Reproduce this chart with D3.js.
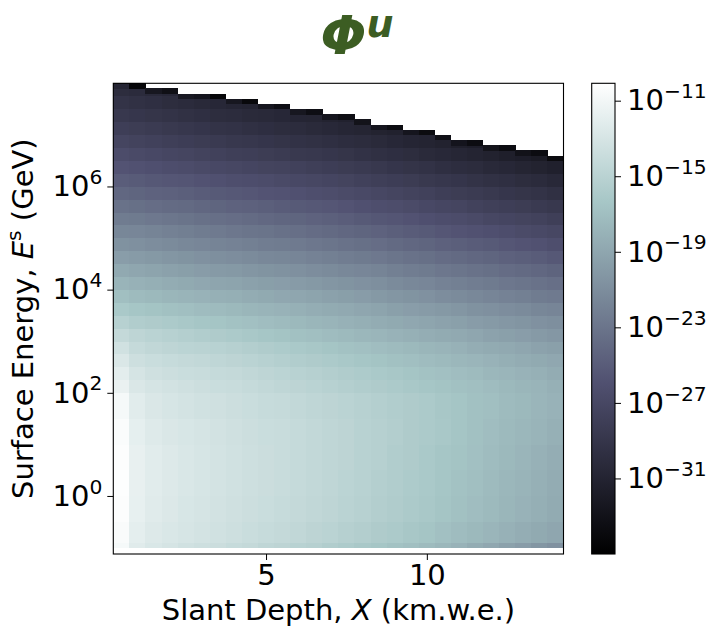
<!DOCTYPE html>
<html>
<head>
<meta charset="utf-8">
<script src="https://cdn.jsdelivr.net/npm/d3@7"></script>
<style>
  body { margin: 0; background: #fff; }
  svg text { font-family: "DejaVu Sans", sans-serif; fill: #000; }
</style>
</head>
<body>
<svg width="710" height="631"></svg>
<script>
// slant depth bin edges (km.w.e.), one column per bin
var depthEdges = [0.25, 0.75, 1.25, 1.75, 2.25, 2.75, 3.25, 3.75, 4.25, 4.75, 5.25, 5.75, 6.25, 6.75,
                  7.25, 7.75, 8.25, 8.75, 9.25, 9.75, 10.25, 10.75, 11.25, 11.75, 12.25, 12.75, 13.25, 13.75, 14.25];

// log10 of surface energy bin edges (GeV)
var energyEdges = [-1.0, -0.9, -0.5, 0.0, 0.5, 1.0, 1.5, 2.0, 2.25, 2.5, 2.75, 3.0, 3.25, 3.5, 3.75, 4.0,
                   4.25, 4.5, 4.75, 5.0, 5.25, 5.5, 5.75, 6.0, 6.25, 6.5, 6.75, 7.0, 7.25, 7.5, 7.75, 8.0];

// highest surface energy filled in each depth column (log10 GeV) and its last thin bin
var topEdge = [8.0, 8.0, 7.9, 7.9, 7.8, 7.8, 7.8, 7.7, 7.7, 7.6, 7.6, 7.5, 7.5, 7.4,
               7.4, 7.3, 7.2, 7.2, 7.1, 7.1, 7.0, 6.9, 6.9, 6.8, 6.8, 6.7, 6.7, 6.6];
var topBinWidth = 0.1;
var topBinFlux = [-30.8, -34.3, -32.4, -33.2, -32.2, -32.6, -34.3, -32.4, -34.0, -32.5, -33.4, -32.4, -33.4, -32.6,
                  -33.4, -32.9, -32.6, -33.6, -32.6, -33.7, -33.2, -32.7, -33.6, -32.8, -33.6, -33.0, -33.6, -33.8];

// log10 Phi^u per depth column, lowest energy bin first
var logFlux = [
  [-10.8, -10.5, -10.3, -10.2, -10.3, -10.4, -10.8, -11.6, -12.1, -12.7, -13.4, -14.3, -15.2, -16.1, -17.0, -17.9, -18.8, -19.7, -20.6, -21.5, -22.4, -23.2, -24.1, -24.9, -25.7, -26.5, -27.3, -28.0, -28.7, -29.3, -30.0],
  [-12.3, -12.0, -11.8, -11.7, -11.7, -11.9, -12.2, -12.7, -13.1, -13.6, -14.2, -14.7, -15.6, -16.4, -17.3, -18.1, -19.0, -19.9, -20.8, -21.6, -22.5, -23.4, -24.3, -25.1, -25.9, -26.7, -27.5, -28.2, -28.9, -29.5, -30.2],
  [-12.8, -12.5, -12.3, -12.2, -12.2, -12.4, -12.7, -13.1, -13.5, -13.9, -14.5, -15.0, -15.8, -16.6, -17.5, -18.3, -19.2, -20.1, -21.0, -21.8, -22.7, -23.6, -24.5, -25.3, -26.1, -26.9, -27.7, -28.4, -29.1, -29.7, -30.4],
  [-13.1, -12.8, -12.6, -12.5, -12.5, -12.7, -13.0, -13.3, -13.7, -14.1, -14.7, -15.2, -16.0, -16.8, -17.7, -18.5, -19.4, -20.3, -21.2, -22.0, -22.9, -23.8, -24.6, -25.5, -26.3, -27.1, -27.9, -28.6, -29.3, -30.0, -30.6],
  [-13.4, -13.0, -12.9, -12.8, -12.8, -12.9, -13.2, -13.5, -13.9, -14.3, -14.9, -15.4, -16.2, -17.0, -17.9, -18.7, -19.6, -20.5, -21.4, -22.2, -23.1, -23.9, -24.8, -25.6, -26.5, -27.3, -28.1, -28.8, -29.5, -30.2],
  [-13.6, -13.2, -13.1, -13.0, -13.0, -13.1, -13.4, -13.7, -14.0, -14.4, -15.0, -15.6, -16.4, -17.2, -18.0, -18.9, -19.8, -20.7, -21.6, -22.4, -23.3, -24.1, -25.0, -25.8, -26.7, -27.5, -28.3, -29.0, -29.7, -30.4],
  [-13.8, -13.4, -13.3, -13.2, -13.2, -13.3, -13.5, -13.9, -14.2, -14.6, -15.1, -15.8, -16.5, -17.3, -18.2, -19.1, -20.0, -20.9, -21.8, -22.6, -23.5, -24.3, -25.2, -26.0, -26.9, -27.7, -28.5, -29.3, -30.0, -30.6],
  [-14.1, -13.6, -13.5, -13.4, -13.4, -13.5, -13.7, -14.0, -14.3, -14.8, -15.3, -16.0, -16.7, -17.5, -18.3, -19.2, -20.1, -21.0, -21.9, -22.8, -23.6, -24.5, -25.3, -26.2, -27.0, -27.9, -28.7, -29.4, -30.1, -30.8],
  [-14.3, -13.9, -13.7, -13.6, -13.6, -13.7, -13.9, -14.2, -14.5, -15.0, -15.5, -16.2, -16.9, -17.7, -18.5, -19.4, -20.3, -21.2, -22.1, -23.0, -23.8, -24.6, -25.5, -26.3, -27.2, -28.0, -28.8, -29.6, -30.3, -31.0],
  [-14.6, -14.1, -13.9, -13.8, -13.8, -13.9, -14.1, -14.4, -14.7, -15.2, -15.7, -16.4, -17.1, -17.9, -18.7, -19.6, -20.5, -21.4, -22.3, -23.1, -24.0, -24.8, -25.7, -26.5, -27.4, -28.2, -29.0, -29.8, -30.4],
  [-14.8, -14.3, -14.1, -14.0, -14.0, -14.0, -14.2, -14.6, -14.9, -15.4, -15.9, -16.6, -17.3, -18.0, -18.9, -19.7, -20.6, -21.5, -22.4, -23.3, -24.2, -25.0, -25.8, -26.7, -27.5, -28.4, -29.2, -30.0, -30.6],
  [-15.1, -14.5, -14.3, -14.2, -14.2, -14.2, -14.4, -14.8, -15.1, -15.6, -16.1, -16.8, -17.5, -18.2, -19.0, -19.9, -20.8, -21.7, -22.6, -23.5, -24.3, -25.2, -26.0, -26.9, -27.7, -28.6, -29.4, -30.1, -30.8],
  [-15.3, -14.8, -14.5, -14.4, -14.4, -14.4, -14.6, -15.0, -15.3, -15.8, -16.3, -17.0, -17.7, -18.4, -19.2, -20.1, -21.0, -21.9, -22.8, -23.7, -24.5, -25.3, -26.2, -27.0, -27.9, -28.7, -29.5, -30.3, -30.9],
  [-15.6, -15.0, -14.7, -14.6, -14.6, -14.6, -14.8, -15.2, -15.5, -16.0, -16.5, -17.2, -17.9, -18.6, -19.4, -20.3, -21.2, -22.1, -23.0, -23.9, -24.7, -25.5, -26.4, -27.2, -28.1, -28.9, -29.7, -30.5, -31.1],
  [-15.9, -15.3, -15.0, -14.9, -14.8, -14.8, -15.0, -15.4, -15.7, -16.2, -16.7, -17.4, -18.1, -18.8, -19.6, -20.5, -21.4, -22.3, -23.2, -24.1, -24.9, -25.7, -26.6, -27.4, -28.3, -29.1, -29.9, -30.7, -31.3],
  [-16.2, -15.5, -15.2, -15.1, -15.1, -15.1, -15.2, -15.6, -15.9, -16.4, -16.9, -17.6, -18.3, -19.0, -19.8, -20.7, -21.6, -22.5, -23.4, -24.3, -25.2, -26.0, -26.8, -27.7, -28.5, -29.4, -30.1, -30.9],
  [-16.4, -15.8, -15.5, -15.4, -15.3, -15.3, -15.4, -15.8, -16.1, -16.6, -17.1, -17.8, -18.5, -19.2, -20.1, -20.9, -21.8, -22.7, -23.6, -24.5, -25.4, -26.2, -27.0, -27.9, -28.7, -29.6, -30.3, -31.1],
  [-16.7, -16.0, -15.7, -15.6, -15.6, -15.5, -15.6, -16.0, -16.3, -16.8, -17.3, -18.0, -18.7, -19.5, -20.3, -21.2, -22.1, -23.0, -23.9, -24.8, -25.6, -26.4, -27.3, -28.1, -29.0, -29.8, -30.6, -31.3],
  [-17.0, -16.3, -16.0, -15.9, -15.8, -15.8, -15.8, -16.2, -16.5, -17.0, -17.5, -18.2, -18.9, -19.7, -20.5, -21.4, -22.3, -23.2, -24.1, -25.0, -25.8, -26.6, -27.5, -28.3, -29.2, -30.0, -30.8],
  [-17.3, -16.5, -16.2, -16.1, -16.1, -16.0, -16.0, -16.4, -16.7, -17.2, -17.7, -18.4, -19.1, -19.9, -20.7, -21.6, -22.5, -23.4, -24.3, -25.2, -26.1, -26.9, -27.7, -28.6, -29.4, -30.3, -31.0],
  [-17.6, -16.9, -16.5, -16.4, -16.4, -16.2, -16.3, -16.6, -16.9, -17.4, -17.9, -18.6, -19.3, -20.1, -21.0, -21.9, -22.8, -23.7, -24.6, -25.5, -26.3, -27.1, -28.0, -28.8, -29.7, -30.5, -31.2],
  [-18.0, -17.2, -16.8, -16.7, -16.6, -16.5, -16.5, -16.8, -17.1, -17.6, -18.1, -18.8, -19.5, -20.3, -21.2, -22.1, -23.0, -23.9, -24.8, -25.7, -26.5, -27.3, -28.2, -29.0, -29.9, -30.7, -31.5],
  [-18.5, -17.5, -17.1, -17.0, -16.9, -16.8, -16.8, -17.0, -17.3, -17.8, -18.4, -19.0, -19.8, -20.6, -21.4, -22.3, -23.2, -24.1, -25.0, -25.9, -26.7, -27.6, -28.4, -29.3, -30.1, -31.0, -31.7],
  [-18.9, -17.8, -17.4, -17.3, -17.2, -17.1, -17.0, -17.2, -17.6, -18.0, -18.6, -19.3, -20.0, -20.8, -21.7, -22.5, -23.4, -24.3, -25.2, -26.1, -27.0, -27.8, -28.6, -29.5, -30.4, -31.2],
  [-19.4, -18.1, -17.7, -17.6, -17.5, -17.4, -17.3, -17.5, -17.8, -18.3, -18.8, -19.5, -20.2, -21.0, -21.9, -22.8, -23.7, -24.6, -25.5, -26.3, -27.2, -28.0, -28.9, -29.7, -30.6, -31.5],
  [-19.8, -18.4, -18.0, -17.9, -17.8, -17.6, -17.5, -17.7, -18.0, -18.5, -19.0, -19.7, -20.4, -21.2, -22.1, -23.0, -23.9, -24.8, -25.7, -26.6, -27.4, -28.2, -29.1, -30.0, -30.9, -31.7],
  [-20.3, -18.7, -18.3, -18.2, -18.1, -17.9, -17.8, -17.9, -18.2, -18.7, -19.3, -20.0, -20.7, -21.5, -22.4, -23.2, -24.1, -25.0, -25.9, -26.8, -27.6, -28.5, -29.3, -30.2, -31.1, -32.0],
  [-20.7, -19.0, -18.6, -18.5, -18.4, -18.2, -18.0, -18.2, -18.5, -18.9, -19.5, -20.2, -20.9, -21.7, -22.6, -23.5, -24.4, -25.3, -26.2, -27.0, -27.9, -28.7, -29.6, -30.5, -31.4]
];

var xTicks = [5, 10];
var yTickExps = [0, 2, 4, 6];
var cbarTickExps = [-11, -15, -19, -23, -27, -31];
var cbarRange = [-35, -10.08];          // log10 of colour limits
var energyRange = [-1.125, 8.0];        // log10 of y-axis limits

var svg = d3.select("svg"),
    plot = {left: 113.3, right: 563.5, top: 83.3, bottom: 554},
    cbar = {left: 591.7, right: 615, top: 83.3, bottom: 554},
    fs = 29;

var x = d3.scaleLinear()
          .domain([depthEdges[0], depthEdges[depthEdges.length - 1]])
          .range([plot.left, plot.right]);

var y = d3.scaleLog()
          .domain(energyRange.map(function(e) { return Math.pow(10, e); }))
          .range([plot.bottom, plot.top]);

// matplotlib "bone" colormap, breakpoints in normalized units
var boneStops = [0, 0.365079, 0.746032, 1];
var boneColors = ["#000000", "rgb(81,81,113)", "rgb(166,198,198)", "#ffffff"];
var color = d3.scaleLinear()
              .domain(boneStops.map(function(t) { return cbarRange[0] + t * (cbarRange[1] - cbarRange[0]); }))
              .range(boneColors)
              .clamp(true);

// cells
var cells = [];
logFlux.forEach(function(col, j) {
  var lim = topEdge[j] - topBinWidth;
  col.forEach(function(v, i) {
    var lo = energyEdges[i], hi = Math.min(energyEdges[i + 1], lim);
    if (lo < hi - 1e-9) cells.push({x0: depthEdges[j], x1: depthEdges[j + 1], e0: lo, e1: hi, v: v});
  });
  cells.push({x0: depthEdges[j], x1: depthEdges[j + 1], e0: lim, e1: topEdge[j], v: topBinFlux[j]});
});

var g = svg.append("g");
g.selectAll("rect")
  .data(cells)
  .join("rect")
    .attr("x", function(d) { return x(d.x0); })
    .attr("width", function(d) { return x(d.x1) - x(d.x0) + 0.3; })
    .attr("y", function(d) { return y(Math.pow(10, d.e1)); })
    .attr("height", function(d) { return y(Math.pow(10, d.e0)) - y(Math.pow(10, d.e1)) + 0.3; })
    .attr("fill", function(d) { return color(d.v); })
    .attr("shape-rendering", "crispEdges");

svg.append("rect")
    .attr("x", plot.left).attr("y", plot.top)
    .attr("width", plot.right - plot.left).attr("height", plot.bottom - plot.top)
    .attr("fill", "none").attr("stroke", "#000").attr("stroke-width", 1.1);

function sup(sel, exp) {
  sel.text("");
  sel.append("tspan").text("10");
  sel.append("tspan")
     .attr("dy", -0.42 * fs)
     .attr("font-size", 0.7 * fs)
     .text(String(exp).replace("-", "\u2212"));
}

// x axis
var xAxis = svg.append("g")
    .attr("transform", "translate(0," + plot.bottom + ")")
    .call(d3.axisBottom(x).tickValues(xTicks).tickSize(6).tickPadding(4).tickFormat(d3.format("d")));
xAxis.select(".domain").remove();
xAxis.selectAll("text").attr("font-size", fs).attr("font-family", "DejaVu Sans");

// y axis
var yAxis = svg.append("g")
    .attr("transform", "translate(" + plot.left + ",0)")
    .call(d3.axisLeft(y).tickValues(yTickExps.map(function(e) { return Math.pow(10, e); }))
            .tickSize(6).tickPadding(5));
yAxis.select(".domain").remove();
yAxis.selectAll("text")
    .attr("font-size", fs).attr("font-family", "DejaVu Sans")
    .each(function(d) { sup(d3.select(this), Math.round(Math.log10(d))); });

// colorbar
var defs = svg.append("defs");
var grad = defs.append("linearGradient").attr("id", "bone")
    .attr("x1", 0).attr("y1", 1).attr("x2", 0).attr("y2", 0);
grad.selectAll("stop")
  .data(boneStops)
  .join("stop")
    .attr("offset", function(d) { return d; })
    .attr("stop-color", function(d, i) { return boneColors[i]; });

svg.append("rect")
    .attr("x", cbar.left).attr("y", cbar.top)
    .attr("width", cbar.right - cbar.left).attr("height", cbar.bottom - cbar.top)
    .attr("fill", "url(#bone)").attr("stroke", "#000").attr("stroke-width", 1.1);

var cy = d3.scaleLinear().domain(cbarRange).range([cbar.bottom, cbar.top]);
var cAxis = svg.append("g")
    .attr("transform", "translate(" + cbar.right + ",0)")
    .call(d3.axisRight(cy).tickValues(cbarTickExps).tickSize(6).tickPadding(6));
cAxis.select(".domain").remove();
cAxis.selectAll("text")
    .attr("font-size", fs).attr("font-family", "DejaVu Sans")
    .each(function(d) { sup(d3.select(this), d); });

// axis labels
svg.append("text")
    .attr("x", (plot.left + plot.right) / 2)
    .attr("y", 620)
    .attr("text-anchor", "middle")
    .attr("font-size", fs)
    .html('Slant Depth, <tspan font-style="italic">X</tspan> (km.w.e.)');

var yl = svg.append("text")
    .attr("transform", "translate(33," + (plot.top + plot.bottom) / 2 + ") rotate(-90)")
    .attr("text-anchor", "middle")
    .attr("font-size", fs);
yl.append("tspan").text("Surface Energy, ");
yl.append("tspan").attr("font-style", "italic").text("E");
yl.append("tspan").attr("font-size", 0.7 * fs).attr("dy", -0.42 * fs).text("s");
yl.append("tspan").attr("dy", 0.42 * fs).text(" (GeV)");

// title
var title = svg.append("text")
    .attr("x", 357)
    .attr("y", 54)
    .attr("text-anchor", "middle")
    .attr("font-weight", "bold")
    .attr("font-style", "italic")
    .style("fill", "#3c5d23");
title.append("tspan").attr("font-size", 54).text("\u03A6");
title.append("tspan").attr("font-size", 38).attr("dy", -17).text("u");
</script>
</body>
</html>
